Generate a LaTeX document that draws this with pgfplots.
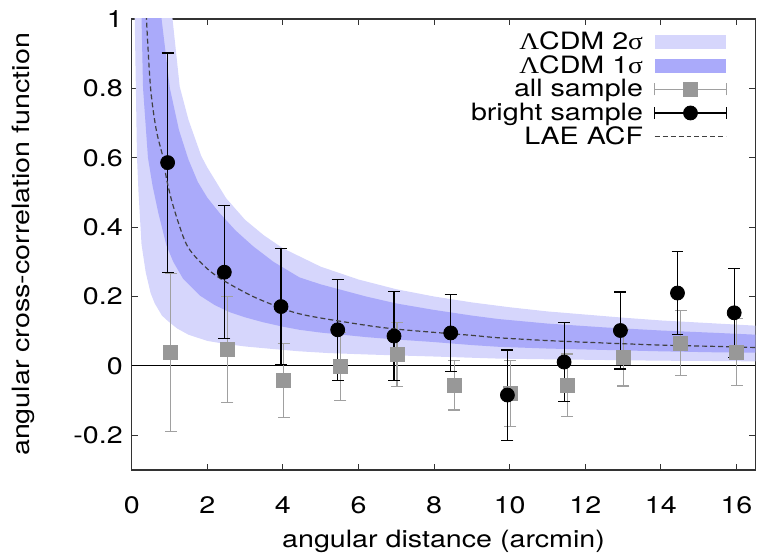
\documentclass[border=0pt]{standalone}
\usepackage{fontspec}
\setmainfont{TeX Gyre Heros}[FakeStretch=1.2]
\newfontfamily\symb{Liberation Serif}[FakeStretch=1.15]
\usepackage{pgfplots}
\pgfplotsset{compat=1.18}
\usepackage{pgfplotstable}

\definecolor{bandtwo}{RGB}{214,214,252}
\definecolor{bandone}{RGB}{170,170,250}
\definecolor{allgray}{RGB}{152,152,152}
\definecolor{allbar}{RGB}{160,160,160}

% bright sample: x, y, error
\pgfplotstableread{
x     y      e
0.95  0.586  0.316
2.45  0.270  0.192
3.95  0.171  0.167
5.45  0.104  0.145
6.94  0.086  0.129
8.44  0.095  0.111
9.94  -0.084 0.130
11.44 0.011  0.113
12.93 0.102  0.111
14.44 0.210  0.120
15.94 0.153  0.128
}\bright

% all sample
\pgfplotstableread{
x     y      e
1.03  0.038  0.228
2.53  0.048  0.153
4.02  -0.042 0.106
5.52  -0.002 0.098
7.02  0.032  0.092
8.53  -0.056 0.071
10.02 -0.080 0.095
11.52 -0.056 0.090
13.01 0.024  0.082
14.52 0.066  0.094
16.01 0.040  0.097
}\allsample

\begin{document}
\begin{tikzpicture}
\begin{axis}[
  scale only axis, width=312.5bp, height=226bp,
  xmin=0, xmax=16.5, ymin=-0.3, ymax=1,
  xtick={0,2,...,16},
  ytick={-0.2,0,0.2,0.4,0.6,0.8,1},
  yticklabels={-0.2,0,0.2,0.4,0.6,0.8,1},
  tick align=inside, major tick length=3bp,
  minor tick num=0,
  axis line style={line width=0.6bp, black!80},
  tick style={line width=0.5bp, black!80},
  font=\fontsize{12}{14}\selectfont,
  /pgf/number format/assume math mode=true,
  xticklabel style={yshift=-10bp},
  yticklabel style={xshift=-1bp},
  xlabel={angular distance (arcmin)},
  ylabel={angular cross-correlation function},
  xlabel style={at={(axis description cs:0.5,0)}, anchor=center, yshift=-36bp},
  ylabel style={at={(axis description cs:-0.173,0.5)}, anchor=center},
  legend plot pos=right,
  legend cell align=right,
  legend style={at={(1,1)}, anchor=north east, xshift=-13bp, yshift=-3bp,
    draw=none, fill=none, row sep=-2.4bp, inner sep=1bp,
    font=\fontsize{12}{14}\selectfont},
]
% zero line
\addplot[black, line width=0.6bp, forget plot] coordinates {(0,0)(16.5,0)};

% 2 sigma band
\addplot[fill=bandtwo, draw=none,
  legend image code/.code={\path (0bp,0bp); \fill[bandtwo] (3.5bp,-3.5bp) rectangle (39.5bp,3.5bp);}]
coordinates {
(0.9,1.3)(1.0,1.1)(1.08,1.0)(1.27,0.805)(1.5,0.71)(1.84,0.605)(2.0,0.572)
(2.5,0.483)(3.0,0.421)(3.5,0.376)(4.0,0.339)(5.0,0.286)(6.0,0.249)(7.0,0.221)
(8.0,0.200)(9.0,0.183)(10.0,0.169)(11.0,0.157)(12.0,0.148)(13.0,0.139)
(14.0,0.131)(15.0,0.125)(16.0,0.119)(16.5,0.116)
(16.5,0.013)(15.5,0.014)(14.0,0.015)(12.5,0.017)(11.0,0.019)(9.71,0.021)
(8.0,0.027)(7.08,0.030)(6.2,0.033)(5.2,0.037)(4.44,0.042)(3.7,0.049)
(3.0,0.056)(2.5,0.063)(2.0,0.072)(1.5,0.09)(1.2,0.108)(0.95,0.13)(0.8,0.145)
(0.61,0.18)(0.5,0.21)(0.37,0.27)(0.26,0.35)(0.18,0.50)(0.14,0.60)(0.11,0.80)
(0.08,1.0)(0.06,1.3)
} -- cycle;
\addlegendentry{{\symb Λ}CDM 2{\symb σ}}

% 1 sigma band
\addplot[fill=bandone, draw=none,
  legend image code/.code={\path (0bp,0bp); \fill[bandone] (3.5bp,-3.5bp) rectangle (39.5bp,3.5bp);}]
coordinates {
(0.7,1.3)(0.79,1.0)(1.01,0.80)(1.25,0.68)(1.5,0.595)(1.75,0.53)(2.0,0.485)
(2.33,0.44)(2.75,0.39)(3.21,0.345)(3.75,0.30)(4.44,0.255)(5.0,0.235)(6.2,0.200)
(7.0,0.18)(7.96,0.162)(9.0,0.145)(9.71,0.135)(11.0,0.122)(12.5,0.111)
(14.0,0.102)(15.5,0.095)(16.5,0.090)
(16.5,0.038)(15.5,0.039)(14.0,0.042)(12.5,0.046)(11.0,0.050)(9.71,0.055)
(9.0,0.060)(7.96,0.069)(7.0,0.076)(6.2,0.083)(5.0,0.096)(4.44,0.104)(4.0,0.113)
(3.47,0.126)(3.0,0.14)(2.59,0.155)(2.2,0.175)(1.8,0.203)(1.36,0.251)(1.1,0.30)
(0.92,0.347)(0.7,0.443)(0.55,0.52)(0.43,0.60)(0.3,0.80)(0.26,1.0)(0.2,1.3)
} -- cycle;
\addlegendentry{{\symb Λ}CDM 1{\symb σ}}

% all sample
\addplot[allgray, only marks, mark=square*, mark size=3.5bp,
  mark options={draw=allgray, fill=allgray},
  legend image code/.code={
    \path (0bp,0bp);
    \draw[allbar, line width=0.6bp] (3.5bp,0bp) -- (39.5bp,0bp)
      (3.5bp,-3bp) -- (3.5bp,3bp) (39.5bp,-3bp) -- (39.5bp,3bp);
    \fill[allgray] (18bp,-3.5bp) rectangle (25bp,3.5bp);},
  error bars/.cd, y dir=both, y explicit,
  error bar style={allbar, line width=0.6bp},
  error mark options={rotate=90, mark size=3bp, allbar, line width=0.6bp}]
  table[x=x, y=y, y error=e] {\allsample};
\addlegendentry{all sample}

% bright sample
\addplot[black, only marks, mark=*, mark size=3.5bp,
  legend image code/.code={
    \path (0bp,0bp);
    \draw[black, line width=0.6bp] (3.5bp,0bp) -- (39.5bp,0bp)
      (3.5bp,-3bp) -- (3.5bp,3bp) (39.5bp,-3bp) -- (39.5bp,3bp);
    \fill[black] (21.5bp,0bp) circle (3.5bp);},
  error bars/.cd, y dir=both, y explicit,
  error bar style={black, line width=0.6bp},
  error mark options={rotate=90, mark size=3bp, black, line width=0.6bp}]
  table[x=x, y=y, y error=e] {\bright};
\addlegendentry{bright sample}

% LAE ACF
\addplot[black!75, dash pattern=on 2.5bp off 1.5bp, line width=0.6bp, smooth,
  legend image code/.code={\path (0bp,0bp); \draw[black!75, dash pattern=on 2.5bp off 1.5bp, line width=0.6bp] (3.5bp,0bp) -- (39.5bp,0bp);}]
coordinates {
(0.33,1.15)(0.39,1.0)(0.5,0.80)(0.65,0.68)(0.83,0.60)(0.92,0.54)(1.1,0.46)
(1.45,0.35)(1.9,0.29)(2.37,0.25)(3.21,0.20)(4.0,0.165)(4.44,0.15)(5.0,0.138)
(6.2,0.117)(7.0,0.106)(7.96,0.097)(9.0,0.088)(9.71,0.081)(11.0,0.073)
(12.5,0.066)(14.0,0.060)(15.5,0.056)(16.5,0.053)
};
\addlegendentry{LAE ACF}
\end{axis}
\path (current axis.north east) ++(1bp,9.5bp);
\path (current axis.south west) ++(-66bp,-43bp);
\end{tikzpicture}
\end{document}
